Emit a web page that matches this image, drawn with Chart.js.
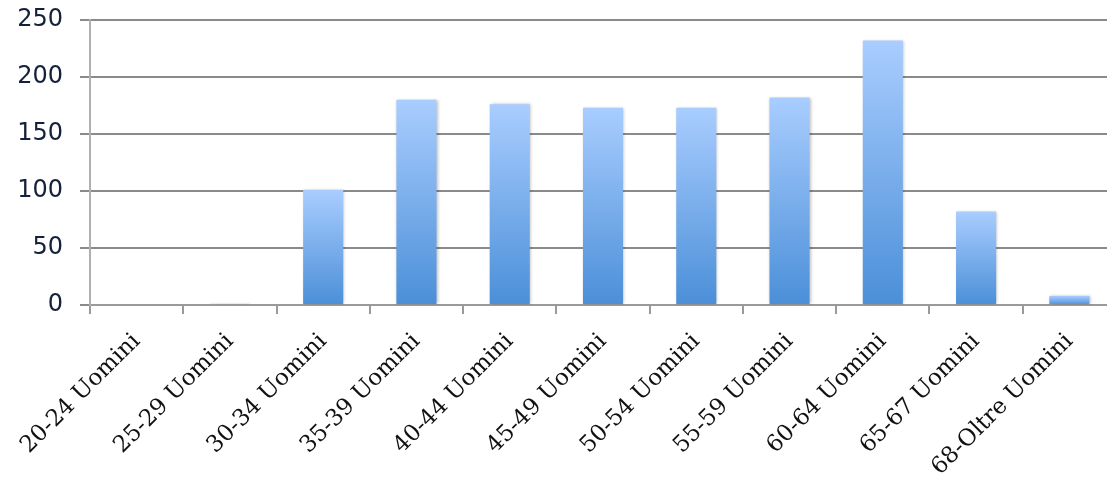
<!DOCTYPE html>
<html>
<head>
<meta charset="utf-8">
<script src="https://cdn.jsdelivr.net/npm/chart.js@4/dist/chart.umd.min.js"></script>
<style>
  html, body { margin: 0; padding: 0; background: #fff; overflow: hidden; }
  #wrap { width: 1130px; height: 477px; }
</style>
</head>
<body>
<div id="wrap"><canvas id="chart"></canvas></div>
<script>
// Iscritti per fascia d'età (uomini)
const categories = [
  '20-24 Uomini', '25-29 Uomini', '30-34 Uomini', '35-39 Uomini',
  '40-44 Uomini', '45-49 Uomini', '50-54 Uomini', '55-59 Uomini',
  '60-64 Uomini', '65-67 Uomini', '68-Oltre Uomini'
];
const values = [0, 1, 101, 180, 176, 173, 173, 182, 232, 82, 8];
const yTicks = [0, 50, 100, 150, 200, 250];

// vertical gradient for each bar, light at the top and deeper blue at the base
function barGradient(ctx) {
  const chart = ctx.chart;
  const y = chart.scales.y;
  if (!y || ctx.type !== 'data') return '#6fa3e6';
  const top = y.getPixelForValue(ctx.raw);
  const base = y.getPixelForValue(0);
  if (!isFinite(top) || !isFinite(base)) return '#6fa3e6';
  if (base - top < 1) return '#8fb6e8';
  const g = chart.ctx.createLinearGradient(0, top, 0, base);
  g.addColorStop(0, '#a9cdff');
  g.addColorStop(1, '#4b8fd8');
  return g;
}

// soft drop shadow under the bars
const barShadow = {
  id: 'barShadow',
  beforeDatasetsDraw(chart) {
    const c = chart.ctx;
    c.save();
    c.shadowColor = 'rgba(0,0,0,0.25)';
    c.shadowBlur = 3;
    c.shadowOffsetX = 1;
    c.shadowOffsetY = 0;
  },
  afterDatasetsDraw(chart) {
    chart.ctx.restore();
  }
};

new Chart(document.getElementById('chart'), {
  type: 'bar',
  data: {
    labels: categories,
    datasets: [{
      data: values,
      backgroundColor: barGradient,
      borderWidth: 0,
      barPercentage: 0.43,
      categoryPercentage: 1.0
    }]
  },
  options: {
    responsive: true,
    maintainAspectRatio: false,
    animation: false,
    layout: { padding: { top: 0, right: 14, bottom: 0, left: 0 } },
    plugins: {
      legend: { display: false },
      tooltip: { enabled: false }
    },
    scales: {
      x: {
        offset: true,
        afterFit(scale) {
          scale.height = 172;
          scale.paddingLeft = 0;
          scale.paddingRight = 0;
        },
        grid: {
          display: true,
          offset: true,
          drawOnChartArea: false,
          drawTicks: true,
          tickLength: 9,
          color: '#9a9a9a',
          lineWidth: 2
        },
        border: { display: true, color: '#9a9a9a', width: 2 },
        ticks: {
          autoSkip: false,
          maxRotation: 45,
          minRotation: 45,
          padding: 14,
          color: '#111',
          font: { family: '"DejaVu Serif", serif', size: 23 }
        }
      },
      y: {
        min: 0,
        max: 250,
        afterBuildTicks(axis) {
          axis.ticks = yTicks.map(v => ({ value: v }));
        },
        afterFit(scale) {
          scale.width = 90;
          scale.paddingTop = 20;
          scale.paddingBottom = 0;
        },
        grid: {
          color: '#8a8a8a',
          lineWidth: 2,
          drawTicks: true,
          tickLength: 10
        },
        border: { display: true, color: '#b0b0b0', width: 2 },
        ticks: {
          padding: 17,
          color: '#15203a',
          font: { family: '"DejaVu Sans", sans-serif', size: 24 }
        }
      }
    }
  },
  plugins: [barShadow]
});
</script>
</body>
</html>
